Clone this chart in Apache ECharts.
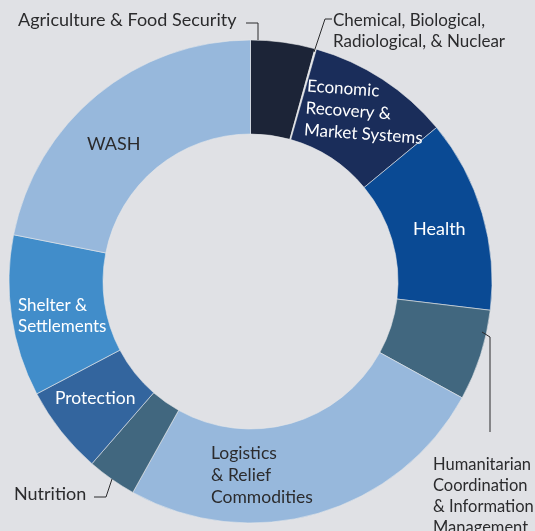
<!DOCTYPE html>
<html>
<head>
<meta charset="utf-8">
<script src="https://cdn.jsdelivr.net/npm/echarts@6/dist/echarts.min.js"></script>
<style>
html,body{margin:0;padding:0;background:#e0e1e5;}
#chart{width:535px;height:531px;}
</style>
</head>
<body>
<div id="chart"></div>
<script>
// Sectors, clockwise from 12 o'clock
const categories = [
  'Agriculture & Food Security',
  'Chemical, Biological, Radiological, & Nuclear',
  'Economic Recovery & Market Systems',
  'Health',
  'Humanitarian Coordination & Information Management',
  'Logistics & Relief Commodities',
  'Nutrition',
  'Protection',
  'Shelter & Settlements',
  'WASH'
];
// Share of total (%)
const values = [4.3, 0.1, 9.6, 12.9, 6.1, 25.1, 3.3, 5.9, 10.8, 21.9];
const colors = ['#1c2437', '#e6e7ea', '#1a2d5a', '#0a4a94', '#41677f', '#97b8dc', '#41677f', '#33659e', '#418dca', '#97b8dc'];

const chart = echarts.init(document.getElementById('chart'));
const FONT = 'Lato, "Open Sans", sans-serif';
const dark = '#2b2b2d';

function txt(x, y, text, fill, size, lh, rot) {
  return {
    type: 'text', x: x, y: y, z: 100, zlevel: 0, silent: true, rotation: rot || 0,
    style: {
      text: text, fill: fill, fontFamily: FONT, fontSize: size,
      textVerticalAlign: 'top', lineHeight: lh || 21
    }
  };
}
function line(pts) {
  return { type: 'polyline', z: 100, silent: true, shape: { points: pts }, style: { stroke: dark, lineWidth: 1, fill: null } };
}

chart.setOption({
  backgroundColor: '#e0e1e5',
  animation: false,
  series: [{
    type: 'pie',
    z: 2,
    center: [250.5, 281.5],
    radius: [147.5, 241.5],
    startAngle: 90,
    clockwise: true,
    label: { show: false },
    labelLine: { show: false },
    emphasis: { disabled: true },
    itemStyle: { borderColor: '#e6e7ea', borderWidth: 0.6 },
    data: categories.map((c, i) => ({ name: c, value: values[i], itemStyle: { color: colors[i] } }))
  }],
  graphic: {
    elements: [
      txt(18, 10, 'Agriculture & Food Security', dark, 18),
      line([[246, 23], [258, 23], [258, 40]]),
      txt(333, 10, 'Chemical, Biological,\nRadiological, & Nuclear', dark, 17),
      line([[332, 19], [325, 19], [314, 52]]),
      txt(308, 75, 'Economic\nRecovery &\nMarket Systems', '#ffffff', 17, 22, -0.07),
      txt(413, 219, 'Health', '#ffffff', 18),
      txt(87, 134, 'WASH', dark, 18),
      txt(18, 295, 'Shelter &\nSettlements', '#ffffff', 17),
      txt(55, 388, 'Protection', '#ffffff', 17.5),
      txt(211, 442, 'Logistics\n& Relief\nCommodities', dark, 17.5, 22),
      txt(14, 484, 'Nutrition', dark, 18),
      line([[94, 497], [106, 497], [112, 479]]),
      txt(433, 454, 'Humanitarian\nCoordination\n& Information\nManagement', dark, 16.5),
      line([[482, 332], [490, 337], [490, 432]])
    ]
  }
});
</script>
</body>
</html>
